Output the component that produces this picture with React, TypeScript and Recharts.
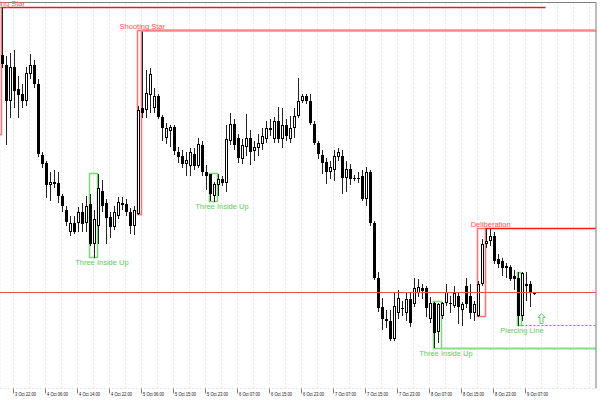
import {
  ComposedChart,
  Bar,
  XAxis,
  YAxis,
  CartesianGrid,
  ReferenceLine,
  ReferenceArea,
  ReferenceDot,
} from "recharts";

// hourly candles, 3 Oct 19:00 .. 9 Oct
const opens = [
  1.3334, 1.3323, 1.3288, 1.3321, 1.3299, 1.3295, 1.3288, 1.3315, 1.3323, 1.3304,
  1.3234, 1.3226, 1.3204, 1.3207, 1.3206, 1.3193, 1.3178, 1.3156, 1.3166, 1.3166,
  1.3176, 1.3166, 1.3185, 1.3145, 1.3163, 1.3197, 1.3186, 1.3172, 1.3161, 1.3173,
  1.3186, 1.3185, 1.3176, 1.3162, 1.3175, 1.328, 1.3278, 1.3294, 1.328, 1.3293,
  1.3272, 1.3251, 1.3257, 1.3261, 1.3236, 1.3233, 1.3225, 1.3222, 1.3235, 1.3222,
  1.3243, 1.3216, 1.3215, 1.3193, 1.3203, 1.321, 1.3206, 1.3248, 1.3265, 1.3251,
  1.323, 1.3241, 1.3251, 1.3237, 1.324, 1.3245, 1.325, 1.326, 1.325, 1.3268,
  1.325, 1.3263, 1.325, 1.326, 1.3273, 1.3288, 1.3293, 1.3288, 1.3265, 1.3246,
  1.3234, 1.3227, 1.3216, 1.3218, 1.3232, 1.3233, 1.3211, 1.3219, 1.3211, 1.321,
  1.3213, 1.319, 1.3216, 1.3166, 1.3111, 1.3081, 1.307, 1.3068, 1.305, 1.3075,
  1.3081, 1.3075, 1.309, 1.3085, 1.3095, 1.31, 1.31, 1.307, 1.3086, 1.3056,
  1.3073, 1.3086, 1.3085, 1.3083, 1.3093, 1.3078, 1.3103, 1.3093, 1.3075, 1.3073,
  1.3105, 1.3145, 1.3148, 1.3153, 1.313, 1.3128, 1.312, 1.3121, 1.3113, 1.3111,
  1.3073, 1.3105, 1.3105, 1.3095,
];
const highs = [
  1.3381, 1.3333, 1.3336, 1.3338, 1.3313, 1.3304, 1.3321, 1.3335, 1.3329, 1.331,
  1.3236, 1.3228, 1.3216, 1.3218, 1.3216, 1.3195, 1.3183, 1.3173, 1.3173, 1.3181,
  1.3186, 1.3193, 1.3195, 1.3178, 1.3215, 1.3209, 1.319, 1.3176, 1.3183, 1.3192,
  1.3192, 1.319, 1.318, 1.3182, 1.3282, 1.3358, 1.3318, 1.332, 1.33, 1.3295,
  1.3274, 1.3266, 1.3264, 1.3263, 1.3241, 1.3238, 1.3236, 1.324, 1.324, 1.3251,
  1.3248, 1.3223, 1.3215, 1.3207, 1.3215, 1.3213, 1.3263, 1.3276, 1.327, 1.3255,
  1.325, 1.3275, 1.3258, 1.3248, 1.3255, 1.326, 1.3268, 1.327, 1.3272, 1.3281,
  1.328, 1.327, 1.3273, 1.328, 1.3311, 1.3295, 1.3295, 1.3295, 1.3268, 1.3248,
  1.3238, 1.3231, 1.3228, 1.3238, 1.324, 1.3238, 1.3228, 1.3225, 1.3214, 1.3216,
  1.3218, 1.3221, 1.3218, 1.3168, 1.3116, 1.3091, 1.3078, 1.3078, 1.3095, 1.3098,
  1.3088, 1.3095, 1.3096, 1.3111, 1.311, 1.3105, 1.3103, 1.3092, 1.3087, 1.3086,
  1.3087, 1.3105, 1.3093, 1.3103, 1.3095, 1.3087, 1.3111, 1.3105, 1.3088, 1.3108,
  1.315, 1.316, 1.3159, 1.3156, 1.3135, 1.3131, 1.3126, 1.3124, 1.3118, 1.3116,
  1.3116, 1.3116, 1.3108, 1.3096,
];
const lows = [
  1.332, 1.3244, 1.3271, 1.328, 1.3271, 1.328, 1.3282, 1.331, 1.33, 1.3232,
  1.322, 1.3191, 1.3188, 1.32, 1.3186, 1.3176, 1.3162, 1.3153, 1.3155, 1.3156,
  1.3156, 1.3156, 1.3142, 1.3131, 1.3145, 1.3176, 1.3145, 1.3151, 1.3158, 1.317,
  1.3178, 1.3173, 1.3155, 1.3154, 1.3174, 1.3271, 1.3271, 1.3276, 1.3276, 1.327,
  1.3248, 1.3245, 1.3241, 1.3234, 1.3226, 1.322, 1.3213, 1.3213, 1.3218, 1.322,
  1.3213, 1.3198, 1.3188, 1.3187, 1.3193, 1.3202, 1.3196, 1.3243, 1.3238, 1.3226,
  1.3225, 1.3233, 1.3223, 1.3228, 1.3233, 1.3238, 1.3246, 1.3253, 1.3246, 1.3246,
  1.324, 1.3248, 1.3246, 1.3251, 1.3271, 1.3286, 1.3285, 1.3263, 1.3243, 1.323,
  1.3215, 1.3205, 1.321, 1.3208, 1.3228, 1.3195, 1.3196, 1.3203, 1.3208, 1.3206,
  1.3188, 1.3183, 1.3163, 1.3109, 1.3076, 1.3058, 1.306, 1.3048, 1.3048, 1.307,
  1.3073, 1.3068, 1.3062, 1.3082, 1.3092, 1.309, 1.3072, 1.3066, 1.304, 1.3046,
  1.307, 1.3083, 1.3075, 1.308, 1.3065, 1.3063, 1.308, 1.307, 1.3068, 1.3072,
  1.3103, 1.314, 1.3143, 1.3125, 1.312, 1.3113, 1.3111, 1.3108, 1.3098, 1.3063,
  1.3068, 1.3088, 1.3082, 1.3094,
];
const closes = [
  1.3324, 1.3288, 1.3321, 1.3297, 1.3294, 1.3288, 1.3316, 1.3323, 1.3305, 1.3235,
  1.3225, 1.3203, 1.3207, 1.3205, 1.3193, 1.3182, 1.3167, 1.3166, 1.3156, 1.3176,
  1.3165, 1.3183, 1.3145, 1.317, 1.32, 1.3183, 1.3171, 1.3161, 1.3176, 1.3187,
  1.3184, 1.3176, 1.3163, 1.3178, 1.3278, 1.3276, 1.3296, 1.3315, 1.3293, 1.3272,
  1.326, 1.326, 1.3261, 1.3237, 1.3232, 1.3225, 1.3229, 1.3236, 1.3222, 1.3245,
  1.3216, 1.3213, 1.3195, 1.3205, 1.321, 1.3206, 1.325, 1.3265, 1.3243, 1.3231,
  1.3243, 1.3251, 1.3236, 1.3241, 1.3246, 1.3253, 1.326, 1.3258, 1.3268, 1.325,
  1.3263, 1.3253, 1.326, 1.3273, 1.3288, 1.3293, 1.3288, 1.3266, 1.3246, 1.3235,
  1.3226, 1.3216, 1.3221, 1.3233, 1.3236, 1.3211, 1.3219, 1.321, 1.321, 1.3211,
  1.319, 1.3216, 1.3166, 1.3111, 1.3081, 1.307, 1.3068, 1.305, 1.3083, 1.3091,
  1.3079, 1.309, 1.3066, 1.31, 1.3101, 1.3097, 1.308, 1.3086, 1.3055, 1.3085,
  1.3086, 1.3096, 1.3086, 1.3095, 1.3081, 1.3085, 1.3085, 1.3075, 1.3085, 1.3105,
  1.3145, 1.3148, 1.3153, 1.3128, 1.3125, 1.312, 1.3123, 1.311, 1.311, 1.3073,
  1.3115, 1.3103, 1.3095, 1.3095,
];

const tickLabels = [
  "3 Oct 22:00", "4 Oct 06:00", "4 Oct 14:00", "4 Oct 22:00", "5 Oct 06:00",
  "5 Oct 15:00", "5 Oct 23:00", "6 Oct 07:00", "6 Oct 15:00", "6 Oct 23:00",
  "7 Oct 07:00", "7 Oct 15:00", "7 Oct 23:00", "8 Oct 07:00", "8 Oct 15:00",
  "8 Oct 23:00", "9 Oct 07:00",
];

// candle patterns found by the indicator
const patternNames = ["Shooting Star", "Shooting Star", "Three Inside Up", "Three Inside Up", "Three Inside Up", "Deliberation", "Piercing Line"];
const patternSide = ["bear", "bear", "bull", "bull", "bull", "bear", "bull"];
const patternFrom = [-1, 34, 22, 52, 108, 119, 129];
const patternTo = [0, 35, 24, 54, 110, 121, 130];
const patternHigh = [1.3381, 1.3358, 1.3215, 1.3215, 1.3087, 1.316, 1.3116];
const patternLow = [1.3254, 1.3174, 1.3131, 1.3187, 1.304, 1.3072, 1.3063];
const labelAt = [0.2, 35.2, 25.1, 55.1, 111.1, 122.3, 130.1];

const RIGHT = 148.625;
const levelUntil = [136, RIGHT, null, null, RIGHT, RIGHT, RIGHT];
const levelColor = ["#dd1c1c", "#ff8686", "", "", "#86dd86", "#ff1a1a", "#3fb53f"];
const levelWidth = [1.5, 2.5, 0, 0, 2, 1.5, 1];

const hLine = 1.3096;
const arrowAt = 135;
const arrowPrice = 1.307;

const PAD = 15;
const rows = Array.from({ length: opens.length + PAD }, (_, i) =>
  i < opens.length
    ? { i, o: opens[i], h: highs[i], l: lows[i], c: closes[i], range: [lows[i], highs[i]] }
    : { i, range: null }
);

const gridTicks = Array.from({ length: 37 }, (_, k) => 3 + 4 * k);
const priceTicks = Array.from({ length: 25 }, (_, k) => +(1.3 + 0.0016 * k).toFixed(4));

const FONT = "Liberation Sans, Arial, sans-serif";
const AXIS_Y = 388.5;

function Candle(props: any) {
  const { x, y, height, payload } = props;
  if (!payload || payload.o == null) return null;
  const { o, h, l, c } = payload;
  const top = Math.min(y, y + height);
  const span = Math.abs(height);
  const py = (v: number) => (h === l ? top : top + ((h - v) / (h - l)) * span);
  const left = Math.floor(x);
  const mid = left + 1.5;
  const yO = Math.round(py(o));
  const yC = Math.round(py(c));
  const bTop = Math.min(yO, yC);
  const bBot = Math.max(yO, yC);
  const bull = c > o;
  return (
    <g>
      <line x1={mid} x2={mid} y1={Math.round(py(h))} y2={Math.round(py(l))} stroke="#222" />
      {bBot - bTop < 2 ? (
        <rect x={left} y={bTop} width={3} height={1} fill="#000" />
      ) : bull ? (
        <rect x={left + 0.5} y={bTop + 0.5} width={2} height={bBot - bTop - 1} fill="#fff" stroke="#000" />
      ) : (
        <rect x={left} y={bTop} width={3} height={bBot - bTop} fill="#000" />
      )}
    </g>
  );
}

function XTick(props: any) {
  const { x, payload } = props;
  const k = (payload.value - 3) / 8;
  if (!Number.isInteger(k) || !tickLabels[k]) return null;
  return (
    <g>
      <line x1={x} x2={x} y1={AXIS_Y} y2={AXIS_Y + 5} stroke="#808080" />
      <text x={x + 1.5} y={AXIS_Y + 7.8} fontSize={6} fontFamily={FONT} fill="#111" textLength={21} lengthAdjust="spacingAndGlyphs">
        {tickLabels[k]}
      </text>
    </g>
  );
}

function PatternLabel(text: string, color: string, dy: number) {
  return (p: any) => (
    <text x={p.cx} y={p.cy + dy} textAnchor="middle" fontSize={7.5} fontFamily={FONT} fill={color}>
      {text}
    </text>
  );
}

function UpArrow(p: any) {
  const { cx, cy } = p;
  const d = `M${cx},${cy - 5} L${cx + 3.5},${cy - 1} L${cx + 1.5},${cy - 1} L${cx + 1.5},${cy + 5} L${cx - 1.5},${cy + 5} L${cx - 1.5},${cy - 1} L${cx - 3.5},${cy - 1} Z`;
  return <path d={d} fill="#fff" stroke="#5fcc5f" strokeWidth={1} />;
}

export default function App() {
  return (
    <div style={{ position: "absolute", left: 0, top: 0, width: 600, height: 400, background: "#fff" }}>
      <ComposedChart
        width={600}
        height={400}
        data={rows}
        margin={{ top: 2.5, right: 0, bottom: 0, left: 0 }}
      >
        <XAxis xAxisId="c" dataKey="i" type="category" hide />
        <XAxis
          xAxisId="n"
          dataKey="i"
          type="number"
          domain={[-0.375, RIGHT]}
          allowDataOverflow
          ticks={gridTicks}
          interval={0}
          tick={XTick}
          tickLine={false}
          height={11.5}
          axisLine={{ stroke: "#808080" }}
        />
        <YAxis
          orientation="right"
          domain={[1.3, 1.3386]}
          allowDataOverflow
          ticks={priceTicks}
          interval={0}
          width={4}
          tick={false}
          tickSize={4}
          tickLine={{ stroke: "#808080" }}
          axisLine={{ stroke: "#808080" }}
        />
        <CartesianGrid xAxisId="n" stroke="#e6e6e6" strokeDasharray="2 2" />
        <ReferenceLine xAxisId="n" y={1.3386} stroke="#808080" />
        <ReferenceLine xAxisId="n" y={hLine} stroke="#e85050" />

        {patternNames.map((name, k) => {
          const bear = patternSide[k] === "bear";
          const col = bear ? "#ff7272" : "#7ad87a";
          const level = bear ? patternHigh[k] : patternLow[k];
          const until = levelUntil[k];
          return [
            <ReferenceArea
              key={`a${k}`}
              xAxisId="n"
              x1={patternFrom[k]}
              x2={patternTo[k]}
              y1={patternLow[k]}
              y2={patternHigh[k]}
              ifOverflow="visible"
              fill="none"
              stroke={col}
              strokeWidth={1.5}
            />,
            until != null ? (
              <ReferenceLine
                key={`l${k}`}
                xAxisId="n"
                segment={[{ x: patternTo[k], y: level }, { x: until, y: level }]}
                ifOverflow="visible"
                stroke={levelColor[k]}
                strokeWidth={levelWidth[k]}
                strokeDasharray={name === "Piercing Line" ? "2 2" : undefined}
              />
            ) : null,
            <ReferenceDot
              key={`t${k}`}
              xAxisId="n"
              x={labelAt[k]}
              y={bear ? patternHigh[k] : patternLow[k]}
              ifOverflow="visible"
              shape={PatternLabel(name, bear ? "#ff5252" : "#5ccc5c", bear ? -2 : 7.5)}
            />,
          ];
        })}

        <Bar xAxisId="c" dataKey="range" barSize={3} shape={Candle} isAnimationActive={false} />

        <ReferenceDot xAxisId="n" x={arrowAt} y={arrowPrice} ifOverflow="visible" shape={UpArrow} />
      </ComposedChart>
    </div>
  );
}
